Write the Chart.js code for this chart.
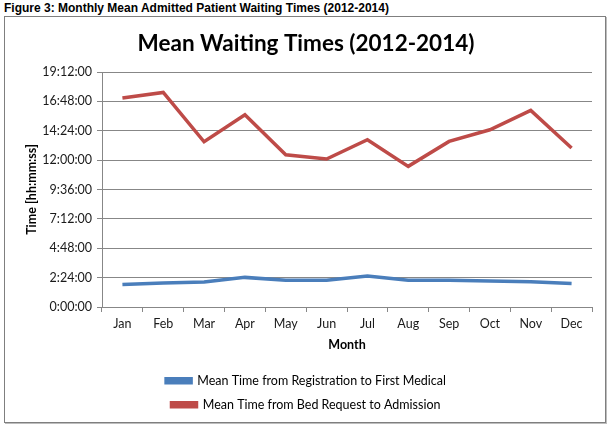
<!DOCTYPE html>
<html>
<head>
<meta charset="utf-8">
<script src="https://cdn.jsdelivr.net/npm/chart.js@4.4.1/dist/chart.umd.min.js"></script>
<style>
  html, body { margin: 0; padding: 0; background: #ffffff; width: 612px; height: 428px; overflow: hidden; }
  #fig { position: absolute; left: 4px; top: 1px; font: bold 12px "Liberation Sans", Arial, sans-serif; color: #000; white-space: nowrap; }
  #box { position: absolute; left: 4px; top: 16px; width: 600px; height: 405px; border: 1px solid #7f7f7f; box-shadow: 1px 1px 0 #bdbdbd; background: #fff; }
  canvas { display: block; }
</style>
</head>
<body>
<div id="fig">Figure 3: Monthly Mean Admitted Patient Waiting Times (2012-2014)</div>
<div id="box"><canvas id="c" width="600" height="405"></canvas></div>
<script>
// ---- data (hours) ----
const months = ['Jan','Feb','Mar','Apr','May','Jun','Jul','Aug','Sep','Oct','Nov','Dec'];
const regToMedical = [1.83, 1.97, 2.05, 2.42, 2.18, 2.18, 2.54, 2.18, 2.18, 2.13, 2.07, 1.93];
const bedToAdmission = [17.07, 17.53, 13.50, 15.70, 12.44, 12.09, 13.67, 11.49, 13.53, 14.48, 16.06, 12.99];
const yTicksHours = [0, 2.4, 4.8, 7.2, 9.6, 12, 14.4, 16.8, 19.2];
const seriesNames = ['Mean Time from Registration to First Medical', 'Mean Time from Bed Request to Admission'];
const chartTitle = 'Mean Waiting Times (2012-2014)';
const xTitle = 'Month';
const yTitle = 'Time [hh:mm:ss]';

function fmtHMS(h) {
  const s = Math.round(h * 3600);
  const hh = Math.floor(s / 3600);
  const mm = Math.floor((s % 3600) / 60);
  const ss = s % 60;
  return hh + ':' + String(mm).padStart(2, '0') + ':' + String(ss).padStart(2, '0');
}

const FONT = 'Lato, "Open Sans", sans-serif';
const GRID = '#878787';

new Chart(document.getElementById('c'), {
  type: 'line',
  data: {
    labels: months,
    datasets: [
      { label: seriesNames[0], data: regToMedical, borderColor: '#4A7EBB', backgroundColor: '#4A7EBB', borderWidth: 3.5, pointRadius: 0, tension: 0 },
      { label: seriesNames[1], data: bedToAdmission, borderColor: '#BE4B48', backgroundColor: '#BE4B48', borderWidth: 3.5, pointRadius: 0, tension: 0 }
    ]
  },
  options: {
    responsive: false,
    animation: false,
    devicePixelRatio: 1,
    layout: { padding: { left: 15, right: 13, top: 0, bottom: 1 } },
    plugins: {
      title: { display: true, text: chartTitle, color: '#000', font: { family: FONT, size: 22.5, weight: 'bold' }, padding: { top: 13, bottom: 15 } },
      legend: {
        position: 'bottom',
        labels: { color: '#000', font: { family: FONT, size: 12.5 }, boxWidth: 25, boxHeight: 4, padding: 11.5 }
      },
      tooltip: { enabled: false }
    },
    scales: {
      x: {
        offset: true,
        grid: { display: true, drawOnChartArea: false, drawTicks: true, tickLength: 5, offset: true, color: GRID },
        border: { display: true, color: GRID, width: 1 },
        ticks: { color: '#1a1a1a', font: { family: FONT, size: 12.5 }, padding: 4, maxRotation: 0, autoSkip: false },
        title: { display: true, text: xTitle, color: '#000', font: { family: FONT, size: 12.5, weight: 'bold' }, padding: { top: 4, bottom: 11 } },
        afterFit: (s) => { s.height = 56; }
      },
      y: {
        min: 0, max: 19.2,
        afterBuildTicks: (s) => { s.ticks = yTicksHours.map(v => ({ value: v })); },
        grid: { color: GRID, lineWidth: 1, drawTicks: true, tickLength: 5 },
        border: { display: true, color: GRID, width: 1 },
        ticks: { color: '#1a1a1a', font: { family: FONT, size: 12.5 }, padding: 5, callback: (v) => fmtHMS(v) },
        title: { display: true, text: yTitle, color: '#000', font: { family: FONT, size: 12.5, weight: 'bold' }, padding: 4 },
        afterFit: (s) => { s.width = 82; }
      }
    }
  }
});
</script>
</body>
</html>
